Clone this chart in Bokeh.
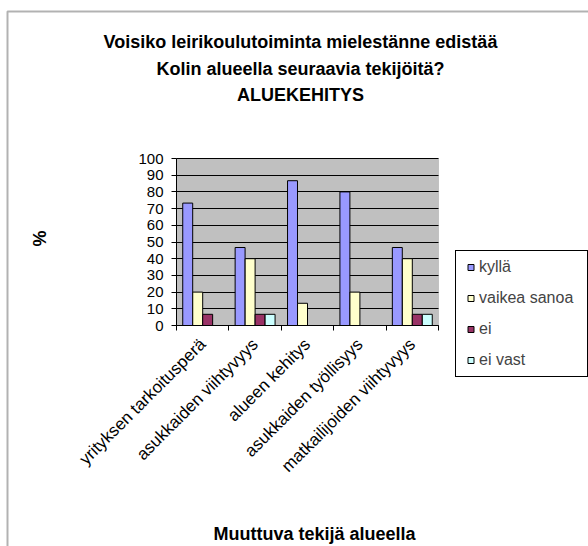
from math import pi
import numpy as np
from bokeh.plotting import figure
from bokeh.models import (Range1d, FixedTicker, Label, Legend, LegendItem, LinearAxis,
                          BoxAnnotation, ColumnDataSource, Grid)
from bokeh.transform import dodge
from bokeh.embed import file_html
from bokeh.resources import INLINE

# ---- data ----
categories = ["yrityksen tarkoitusperä", "asukkaiden viihtyvyys", "alueen kehitys",
              "asukkaiden työllisyys", "matkailijoiden viihtyvyys"]
series_names = ["kyllä", "vaikea sanoa", "ei", "ei vast"]
kylla = [73.3, 46.7, 86.7, 80.0, 46.7]
vaikea_sanoa = [20.0, 40.0, 13.3, 20.0, 40.0]
ei = [6.7, 6.7, 0.0, 0.0, 6.7]
ei_vast = [0.0, 6.7, 0.0, 0.0, 6.7]
y_ticks = list(range(0, 101, 10))
title_lines = ["Voisiko leirikoulutoiminta mielestänne edistää",
               "Kolin alueella seuraavia tekijöitä?",
               "ALUEKEHITYS"]
x_title = "Muuttuva tekijä alueella"
y_title = "%"

# ---- layout / styling ----
colors = ["#9999FF", "#FFFFCC", "#993366", "#CCFFFF"]
FONT = "Liberation Sans"
W, H = 588, 546
# plot-area placement in canvas pixels
PX0, PX1 = 176, 438      # x data 0 .. n
PY0, PY1 = 325, 158      # y data 0 .. 100
N = len(categories)
ux = (PX1 - PX0) / N         # px per x unit
uy = (PY0 - PY1) / 100.0     # px per y unit

def dx(px):
    return (px - PX0) / ux

def dy(py):
    return (PY0 - py) / uy

p = figure(width=W, height=H, output_backend="svg", toolbar_location=None,
           x_range=Range1d(dx(0), dx(W)), y_range=Range1d(dy(H), dy(0)),
           x_axis_location=None, y_axis_location=None,
           min_border=0, min_border_left=0, min_border_right=0,
           min_border_top=0, min_border_bottom=0)
p.background_fill_color = "white"
p.border_fill_color = "white"
p.outline_line_color = None
p.xgrid.visible = False
p.ygrid.visible = False

# gray plot area
p.add_layout(BoxAnnotation(left=0, right=N, bottom=0, top=100, fill_color="#C0C0C0",
                           fill_alpha=1, line_color="#808080", line_width=1, level="underlay"))

# horizontal grid lines
try:
    g = Grid(dimension=1, ticker=FixedTicker(ticks=y_ticks), cross_bounds=(0, N),
             grid_line_color="black", grid_line_width=1, level="underlay")
    p.add_layout(g)
except Exception:
    p.segment(x0=0, x1=N, y0=y_ticks, y1=y_ticks, line_color="black", line_width=1)

centers = [i + 0.5 for i in range(N)]
src = ColumnDataSource(dict(x=centers, kylla=kylla, vaikea=vaikea_sanoa, ei=ei, eivast=ei_vast))

bw = 0.19
offsets = [-0.286, -0.095, 0.095, 0.286]
cols = ["kylla", "vaikea", "ei", "eivast"]
for col, off, c in zip(cols, offsets, colors):
    p.vbar(x=dodge("x", off, range=p.x_range), top=col, bottom=0, width=bw,
           source=src, fill_color=c, line_color="black", line_width=1)

# square legend swatches (proxy renderers with a single undrawn NaN point)
swatches = [p.scatter(x=np.array([np.nan]), y=np.array([np.nan]), marker="square",
                      fill_color=c, line_color="black", line_width=1) for c in colors]

# x axis: category labels at centres, tick marks at boundaries
xa = LinearAxis(fixed_location=0, bounds=(0, N),
                ticker=FixedTicker(ticks=centers, minor_ticks=list(range(N + 1))))
xa.major_label_overrides = {c: lab for c, lab in zip(centers, categories)}
xa.major_label_orientation = pi / 4
xa.major_tick_out = 0
xa.major_tick_in = 0
xa.minor_tick_out = 5
xa.minor_tick_in = 0
xa.minor_tick_line_color = "black"
xa.axis_line_color = "black"
xa.major_label_text_font = FONT
xa.major_label_text_font_size = "17px"
xa.major_label_text_color = "black"
xa.major_label_standoff = 11
p.add_layout(xa, "below")

ya = LinearAxis(fixed_location=0, bounds=(0, 100), ticker=FixedTicker(ticks=y_ticks))
ya.major_tick_out = 5
ya.major_tick_in = 0
ya.minor_tick_out = 0
ya.minor_tick_in = 0
ya.axis_line_color = "black"
ya.major_tick_line_color = "black"
ya.major_label_text_font = FONT
ya.major_label_text_font_size = "15px"
ya.major_label_text_color = "black"
ya.major_label_standoff = 8
p.add_layout(ya, "left")

# chart title
for line, py in zip(title_lines, [41, 68, 94]):
    p.add_layout(Label(x=dx(300), y=dy(py), text=line, text_align="center",
                       text_baseline="middle", text_font=FONT, text_font_size="18px",
                       text_font_style="bold", text_color="black"))
# axis titles
p.add_layout(Label(x=dx(314), y=dy(533), text=x_title, text_align="center",
                   text_baseline="middle", text_font=FONT, text_font_size="18px",
                   text_font_style="bold", text_color="black"))
p.add_layout(Label(x=dx(39), y=dy(238), text=y_title, angle=pi / 2, text_align="center",
                   text_baseline="middle", text_font=FONT, text_font_size="18px",
                   text_font_style="bold", text_color="black"))

# outer chart frame
p.add_layout(BoxAnnotation(left=dx(7), right=dx(W + 50), top=dy(11), bottom=dy(H + 50),
                           fill_alpha=0, line_color="black", line_width=2))

legend = Legend(items=[LegendItem(label=n, renderers=[r], index=0)
                       for n, r in zip(series_names, swatches)],
                location=(455, H - 377),
                label_text_font=FONT, label_text_font_size="16px",
                glyph_width=15, glyph_height=18, label_standoff=1,
                label_height=18, spacing=13, padding=7, label_width=101,
                border_line_color="black", border_line_width=1, border_line_alpha=1,
                background_fill_color="white", background_fill_alpha=1)
p.add_layout(legend)

open("out.html", "w").write(file_html(p, INLINE))
